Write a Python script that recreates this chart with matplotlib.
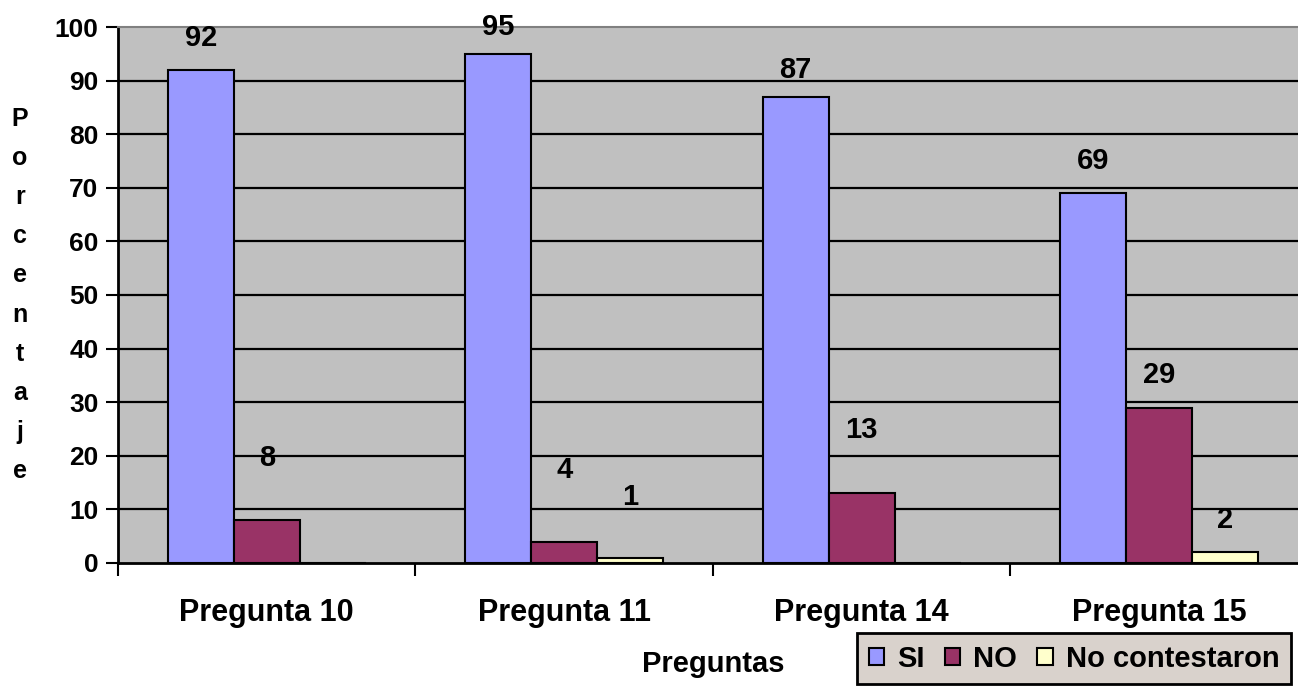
import matplotlib.pyplot as plt
import numpy as np

plt.rcParams['font.family'] = ['Liberation Sans', 'DejaVu Sans']
plt.rcParams['font.weight'] = 'bold'

preguntas = ["Pregunta 10", "Pregunta 11", "Pregunta 14", "Pregunta 15"]
si = [92, 95, 87, 69]
no = [8, 4, 13, 29]
no_contestaron = [0, 1, 0, 2]

series = [("SI", si, "#9999FF"), ("NO", no, "#993366"), ("No contestaron", no_contestaron, "#FFFFCC")]
# how far above each bar its number sits
label_offsets = [[6, 5, 5, 6], [11.6, 13.4, 11.8, 6.1], [0, 11.3, 0, 6]]

fig = plt.figure(figsize=(12.98, 6.89), dpi=100)
ax = fig.add_axes([0.0909, 0.1829, 0.9168, 0.7779])
ax.set_facecolor("#C0C0C0")

width = 0.222
x = np.arange(len(preguntas)) + 0.5
for i, (name, vals, col) in enumerate(series):
    pos = x + (i - 1) * width
    ax.bar(pos, vals, width, color=col, edgecolor="black", linewidth=1.5, label=name, zorder=3)
    for p, v, off in zip(pos, vals, label_offsets[i]):
        if v > 0:
            ax.text(p, v + off, str(v), ha="center", va="center", fontsize=21, fontweight="bold", zorder=4)

ax.set_xlim(0, 4)
ax.set_ylim(0, 100)
ax.set_yticks(range(0, 101, 10))
for y in range(10, 100, 10):
    ax.axhline(y, color="black", linewidth=1.6, zorder=1)

ax.set_xticks(x)
ax.set_xticklabels(preguntas, fontsize=22, fontweight="bold")
ax.set_xticks(range(0, 5), minor=True)
ax.tick_params(axis="x", which="major", length=0, pad=25)
ax.tick_params(axis="x", which="minor", length=9, width=1.5, direction="out")
ax.tick_params(axis="y", length=9, width=1.5, labelsize=19, pad=5)

for s in ["left", "bottom"]:
    ax.spines[s].set_linewidth(2)
    ax.spines[s].set_color("black")
ax.spines["top"].set_color("#808080")
ax.spines["top"].set_linewidth(1.5)
ax.spines["right"].set_visible(False)

fig.text(20 / 1298, 1 - 295 / 689, "\n".join("Porcentaje"), ha="center", va="center",
         fontsize=18, fontweight="bold", linespacing=1.8)
fig.text(713 / 1298, 1 - 664 / 689, "Preguntas", ha="center", va="center",
         fontsize=21, fontweight="bold")

leg = fig.legend(loc="upper left", bbox_to_anchor=(857 / 1298, 1 - 633 / 689), ncol=3,
                 fontsize=21, frameon=True, fancybox=False, handlelength=0.52, handleheight=0.52,
                 handletextpad=0.45, columnspacing=0.7, borderpad=0.4, borderaxespad=0)
leg.get_frame().set_facecolor("#D9D2CC")
leg.get_frame().set_edgecolor("black")
leg.get_frame().set_linewidth(2)
leg.get_frame().set_alpha(1)
for t in leg.get_texts():
    t.set_fontweight("bold")

fig.savefig("out.png", dpi=100)
